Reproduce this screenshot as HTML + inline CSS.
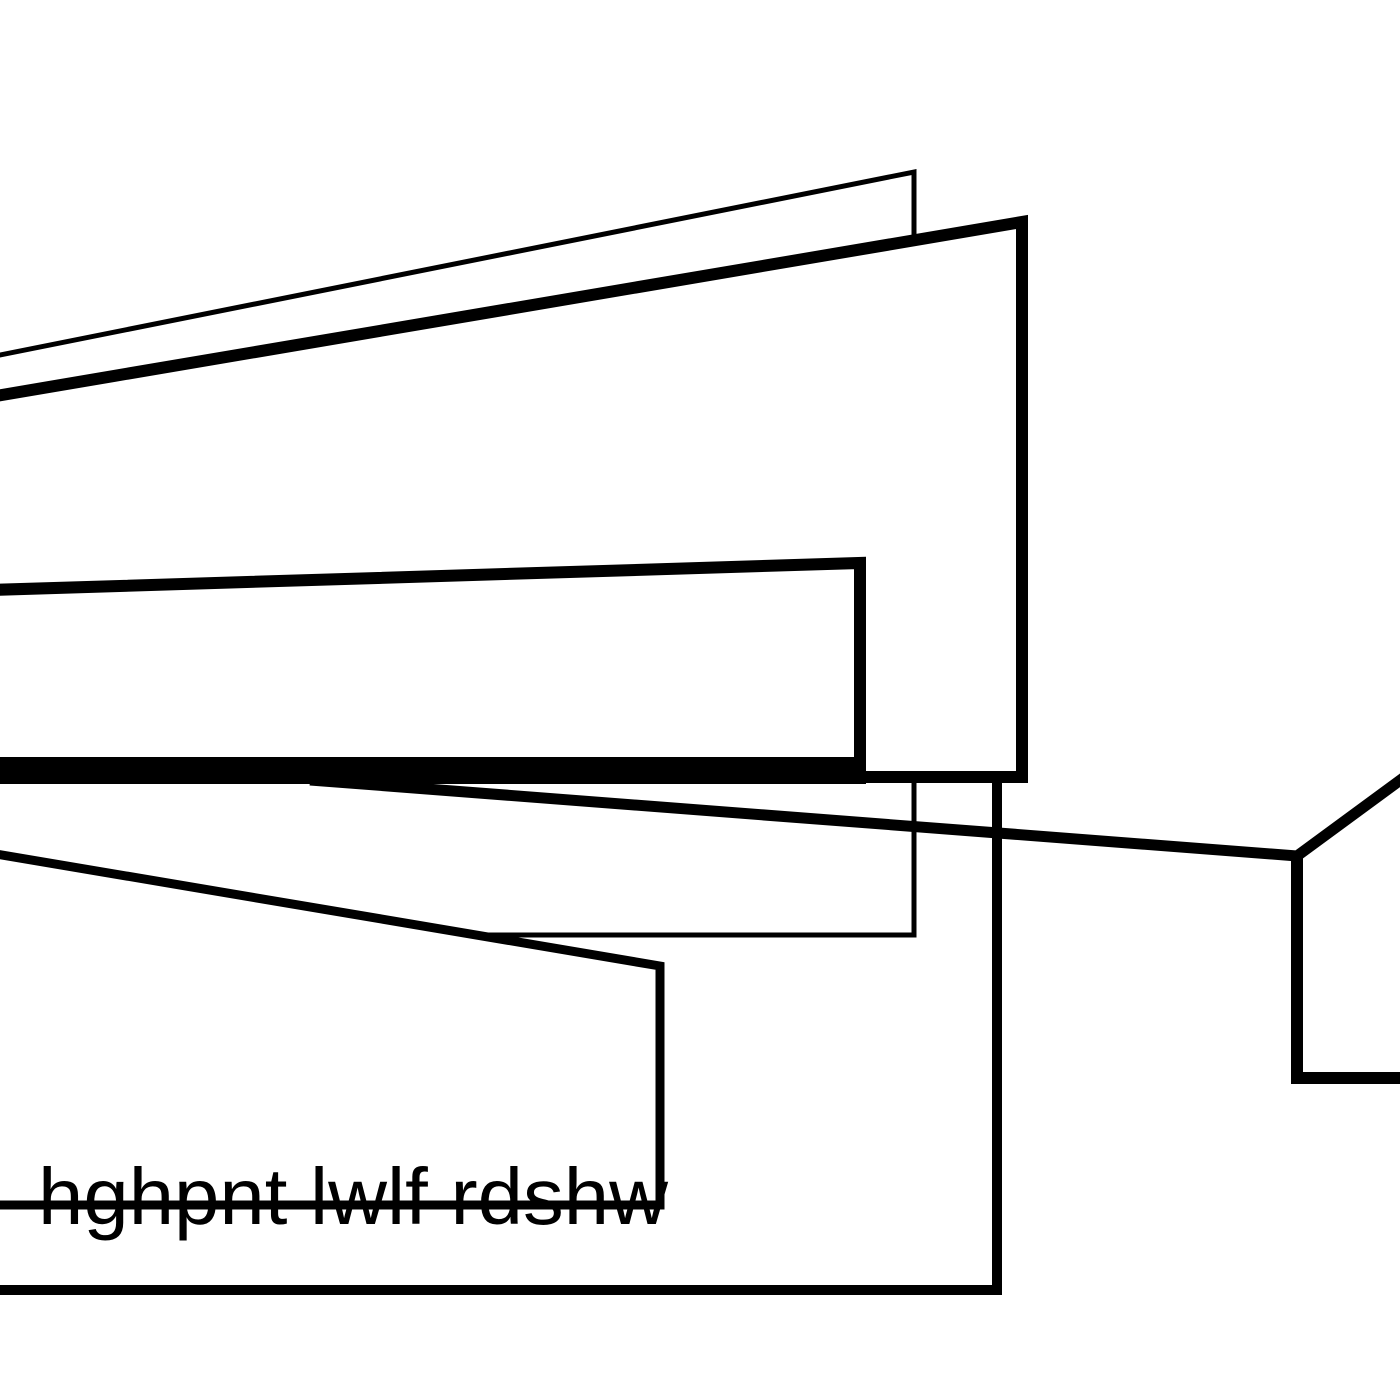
<!DOCTYPE html>
<html><head><meta charset="utf-8"><style>html,body{margin:0;padding:0;background:#fff}svg{display:block}</style></head>
<body>
<svg width="1400" height="1400" viewBox="0 0 1400 1400" xmlns="http://www.w3.org/2000/svg">
<g stroke="#000" stroke-linejoin="miter">
<polyline points="-10,357 914,172 914,935 487,935" stroke-width="5" fill="#fff"/>
<polygon points="-10,397 1022,222 1022,777 -10,777" stroke-width="12" fill="#fff"/>
<polygon points="-10,590 860,563 860,763 -10,763" stroke-width="12" fill="none"/>
<polyline points="-10,853 660,966 660,1205 -10,1205" stroke-width="9" fill="none"/>
<polyline points="310,780 1297,856 1410,773" stroke-width="11" fill="none"/>
<polyline points="1297,856 1297,1078 1410,1078" stroke-width="12" fill="none"/>
<polyline points="997,782 997,1290 -10,1290" stroke-width="10" fill="none"/>
</g>
<rect x="0" y="757" width="866" height="27" fill="#000"/>
<text x="38" y="1224" font-family="Liberation Sans, sans-serif" font-size="80" textLength="630" lengthAdjust="spacingAndGlyphs" fill="#000">hghpnt lwlf rdshw</text>
</svg>
</body></html>
